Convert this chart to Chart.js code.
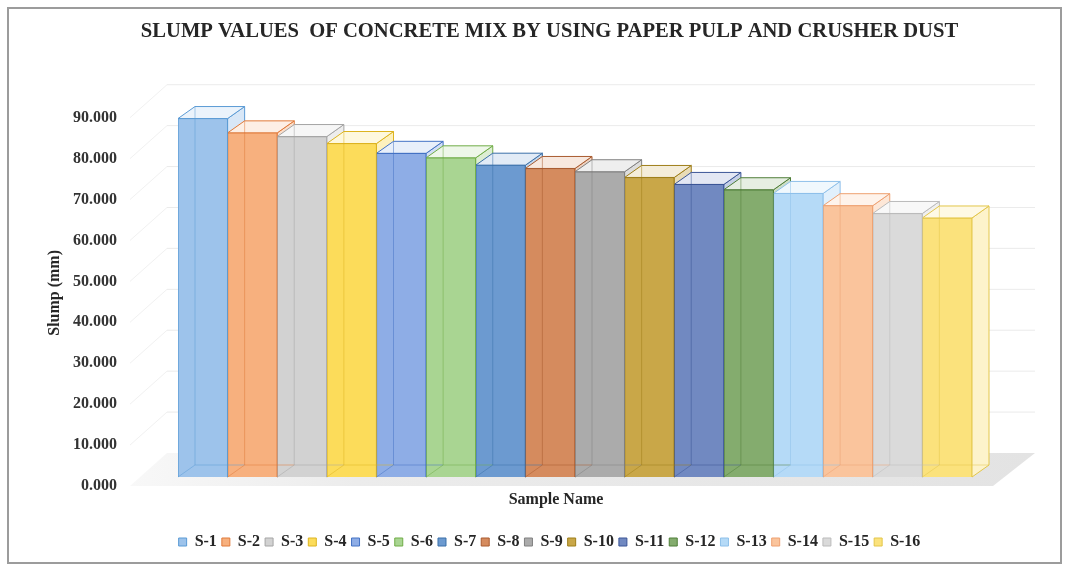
<!DOCTYPE html>
<html>
<head>
<meta charset="utf-8">
<title>Slump values of concrete mix</title>
<script src="https://cdn.jsdelivr.net/npm/chart.js@4/dist/chart.umd.min.js"></script>
<style>
  html, body { margin: 0; padding: 0; background: #ffffff; overflow: hidden; }
  canvas { display: block; }
</style>
</head>
<body>
<canvas id="slumpChart" width="1069" height="568"></canvas>
<script>
// ---- data ----
const categories = ['Sample Name'];
const seriesNames = ['S-1', 'S-2', 'S-3', 'S-4', 'S-5', 'S-6', 'S-7', 'S-8',
                     'S-9', 'S-10', 'S-11', 'S-12', 'S-13', 'S-14', 'S-15', 'S-16'];
const slumpValues = [87.6, 84.1, 83.2, 81.5, 79.1, 78.0, 76.2, 75.4,
                     74.6, 73.2, 71.5, 70.2, 69.3, 66.3, 64.4, 63.3];
const yTickValues = [0, 10, 20, 30, 40, 50, 60, 70, 80, 90];

// ---- styling ----
const fillColors = ['#9DC3EB', '#F7B07E', '#D2D2D2', '#FCDC5A', '#8EADE6', '#A9D592', '#6C9AD0', '#D58B5E',
                    '#ABABAB', '#C9A748', '#7189C1', '#84AC6E', '#B5DAF7', '#FAC49C', '#DADADA', '#FBE27C'];
const edgeColors = ['#5B9BD5', '#E07A3A', '#A5A5A5', '#DDB420', '#4472C4', '#70AD47', '#3A6FA8', '#A95A2E',
                    '#808080', '#9E7E18', '#3B5596', '#4F7E38', '#8EC0EA', '#EEA070', '#BBBBBB', '#E3C64A'];

const SERIF = '"Liberation Serif", "Times New Roman", "DejaVu Serif", serif';
const TEXT_DARK = '#262626';
const DEPTH = { dx: 17, dy: -12 };      // bar depth vector
const FLOOR = { frontLeft: -48, frontRight: 21, backLeft: -11, backRight: 63, front: 9, back: -24 };

function hexToRgb(hex) {
  const n = parseInt(hex.slice(1), 16);
  return [(n >> 16) & 255, (n >> 8) & 255, n & 255];
}
function tint(hex, t) {
  const [r, g, b] = hexToRgb(hex).map(c => Math.round(c + (255 - c) * t));
  return `rgb(${r},${g},${b})`;
}
function rgba(hex, a) {
  const [r, g, b] = hexToRgb(hex);
  return `rgba(${r},${g},${b},${a})`;
}
function polygon(ctx, pts, fill, stroke) {
  ctx.beginPath();
  ctx.moveTo(pts[0][0], pts[0][1]);
  for (let k = 1; k < pts.length; k++) ctx.lineTo(pts[k][0], pts[k][1]);
  ctx.closePath();
  if (fill) { ctx.fillStyle = fill; ctx.fill(); }
  if (stroke) { ctx.strokeStyle = stroke; ctx.stroke(); }
}
function barBox(chart, i) {
  const el = chart.getDatasetMeta(i).data[0];
  const p = el.getProps(['x', 'y', 'base', 'width'], true);
  return { l: p.x - p.width / 2, r: p.x + p.width / 2, top: p.y, base: p.base };
}

// Frame, floor, walls and the depth faces of each column
const columns3d = {
  id: 'columns3d',
  beforeDraw(chart) {
    const { ctx, width, height } = chart;
    ctx.save();
    ctx.fillStyle = '#ffffff';
    ctx.fillRect(0, 0, width, height);
    ctx.strokeStyle = '#9c9c9c';
    ctx.lineWidth = 2;
    ctx.strokeRect(8, 8, width - 16, height - 13);
    ctx.restore();
  },
  beforeDatasetsDraw(chart) {
    const { ctx, chartArea: ca, scales } = chart;
    const ys = scales.y;
    const y0 = ys.getPixelForValue(0);
    const fl = ca.left + FLOOR.frontLeft, fr = ca.right + FLOOR.frontRight;
    const bl = ca.left + FLOOR.backLeft, br = ca.right + FLOOR.backRight;
    const fy = y0 + FLOOR.front, by = y0 + FLOOR.back;
    ctx.save();
    // floor
    const g = ctx.createLinearGradient(fl, 0, br, 0);
    g.addColorStop(0, '#f8f8f8');
    g.addColorStop(0.25, '#ececec');
    g.addColorStop(1, '#e3e3e3');
    polygon(ctx, [[fl, fy], [fr, fy], [br, by], [bl, by]], g, null);
    // wall gridlines
    ctx.lineWidth = 1;
    yTickValues.forEach(v => {
      if (v === 0) return;
      const p = ys.getPixelForValue(v);
      ctx.strokeStyle = '#f1f1f1';
      ctx.beginPath();
      ctx.moveTo(fl, p + FLOOR.front);
      ctx.lineTo(bl, p + FLOOR.back);
      ctx.stroke();
      ctx.strokeStyle = '#ebebeb';
      ctx.beginPath();
      ctx.moveTo(bl, p + FLOOR.back);
      ctx.lineTo(br, p + FLOOR.back);
      ctx.stroke();
    });
    // side and top faces, left to right
    const { dx, dy } = DEPTH;
    chart.data.datasets.forEach((ds, i) => {
      const b = barBox(chart, i);
      polygon(ctx, [[b.r, b.top], [b.r + dx, b.top + dy], [b.r + dx, b.base + dy], [b.r, b.base]],
              tint(fillColors[i], 0.6), edgeColors[i]);
      polygon(ctx, [[b.l, b.top], [b.r, b.top], [b.r + dx, b.top + dy], [b.l + dx, b.top + dy]],
              tint(fillColors[i], 0.8), edgeColors[i]);
    });
    ctx.restore();
  },
  afterDatasetsDraw(chart) {
    const { ctx } = chart;
    const { dx, dy } = DEPTH;
    ctx.save();
    ctx.lineWidth = 1;
    chart.data.datasets.forEach((ds, i) => {
      const b = barBox(chart, i);
      // rear edges seen through the translucent front face
      ctx.strokeStyle = rgba(edgeColors[i], 0.5);
      ctx.beginPath();
      ctx.moveTo(b.l + dx, b.top + dy);
      ctx.lineTo(b.l + dx, b.base + dy);
      ctx.lineTo(b.r + dx, b.base + dy);
      ctx.moveTo(b.l, b.base);
      ctx.lineTo(b.l + dx, b.base + dy);
      ctx.stroke();
    });
    ctx.restore();
  },
  afterDraw(chart) {
    const { ctx, chartArea: ca } = chart;
    ctx.save();
    ctx.font = `bold 16px ${SERIF}`;
    ctx.fillStyle = TEXT_DARK;
    ctx.textAlign = 'center';
    ctx.textBaseline = 'middle';
    const cx = ((ca.left - 101) + (ca.right + FLOOR.backRight)) / 2;
    ctx.fillText('Sample Name', cx, chart.scales.y.getPixelForValue(0) + 23);
    ctx.restore();
  }
};

const datasets = seriesNames.map((name, i) => ({
  label: name,
  data: [slumpValues[i]],
  backgroundColor: fillColors[i],
  borderColor: edgeColors[i],
  borderWidth: 1,
  barPercentage: 1,
  categoryPercentage: 1,
  yAxisID: 'y'
}));

new Chart(document.getElementById('slumpChart'), {
  type: 'bar',
  data: { labels: categories, datasets },
  plugins: [columns3d],
  options: {
    responsive: false,
    devicePixelRatio: 1,
    animation: false,
    events: [],
    layout: { padding: { left: 30, right: 0, top: 0, bottom: 8 } },
    plugins: {
      title: {
        display: true,
        text: 'SLUMP VALUES  OF CONCRETE MIX BY USING PAPER PULP AND CRUSHER DUST',
        color: TEXT_DARK,
        font: { family: SERIF, size: 20.6, weight: 'bold' },
        padding: { top: 19, bottom: 65 }
      },
      legend: {
        position: 'bottom',
        labels: {
          color: TEXT_DARK,
          font: { family: SERIF, size: 16, weight: 'bold' },
          boxWidth: 8,
          boxHeight: 8,
          padding: 5
        }
      },
      tooltip: { enabled: false }
    },
    scales: {
      x: {
        display: true,
        grid: { display: false, drawTicks: false },
        border: { display: false },
        ticks: { display: false },
        afterFit(s) { s.height = 52; }
      },
      y: {
        position: 'left',
        min: 0,
        max: 90,
        grid: { display: false, drawTicks: false },
        border: { display: false },
        ticks: {
          stepSize: 10,
          padding: 61,
          labelOffset: 9,
          color: '#333333',
          font: { family: SERIF, size: 16, weight: 'bold' },
          callback: v => Number(v).toFixed(3)
        },
        title: {
          display: true,
          text: 'Slump (mm)',
          color: TEXT_DARK,
          font: { family: SERIF, size: 16, weight: 'bold' },
          padding: { top: 15, bottom: 0 }
        },
        afterFit(s) { s.width = 148; }
      },
      depthMargin: {
        type: 'linear',
        position: 'right',
        display: true,
        grid: { display: false, drawTicks: false },
        border: { display: false },
        ticks: { display: false },
        afterFit(s) { s.width = 97; }
      }
    }
  }
});
</script>
</body>
</html>
